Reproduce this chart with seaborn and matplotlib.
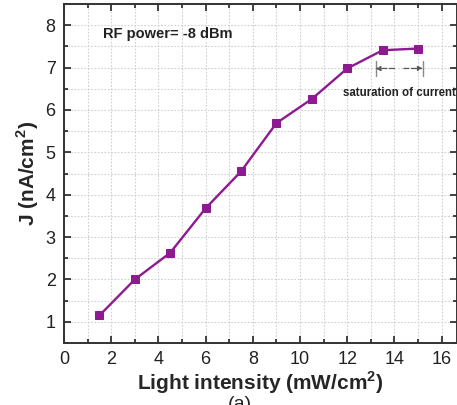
import matplotlib
matplotlib.use("Agg")
import matplotlib.pyplot as plt
import seaborn as sns
import pandas as pd
from matplotlib.ticker import MultipleLocator

intensity = [1.5, 3.0, 4.5, 6.0, 7.5, 9.0, 10.5, 12.0, 13.5, 15.0]
current = [1.15, 2.0, 2.63, 3.68, 4.55, 5.69, 6.26, 6.98, 7.41, 7.45]
x_ticks = [0, 2, 4, 6, 8, 10, 12, 14, 16]
y_ticks = [1, 2, 3, 4, 5, 6, 7, 8]

df = pd.DataFrame({"intensity": intensity, "current": current})

sns.set_style("ticks")
plt.rcParams["font.family"] = ["Liberation Sans", "DejaVu Sans"]
plt.rcParams["mathtext.fontset"] = "custom"
plt.rcParams["mathtext.rm"] = "Liberation Sans"
plt.rcParams["mathtext.bf"] = "Liberation Sans:bold"

fig = plt.figure(figsize=(4.57, 4.05), dpi=100)
ax = fig.add_axes([0.140, 0.153, 0.860, 0.837])

purple = "#8E1A90"
sns.lineplot(data=df, x="intensity", y="current", ax=ax, color=purple,
             marker="s", markersize=6, markeredgecolor=purple, linewidth=1.7,
             zorder=3)

ax.set_xlim(0, 16.65)
ax.set_ylim(0.5, 8.5)
ax.set_xticks(x_ticks)
ax.set_yticks(y_ticks)
ax.xaxis.set_minor_locator(MultipleLocator(1))
ax.yaxis.set_minor_locator(MultipleLocator(0.5))
ax.tick_params(which="both", direction="in", top=True, right=True,
               color="#222222", width=1.2)
ax.tick_params(which="major", length=5, labelsize=13, labelcolor="#222222", pad=6)
ax.tick_params(which="minor", length=3)

ax.grid(True, which="both", linestyle=(0, (1.5, 1.5)), color="#d0d0d0", linewidth=0.8)
ax.set_axisbelow(True)

for s in ax.spines.values():
    s.set_color("#333333")
    s.set_linewidth(1.4)

ax.set_xlabel(r"Light intensity (mW/cm$^\mathbf{2}$)", fontsize=15, fontweight="bold", labelpad=1)
ax.set_ylabel(r"J (nA/cm$^\mathbf{2}$)", fontsize=15, fontweight="bold", labelpad=3)

ax.text(1.65, 7.79, "RF power= -8 dBm", fontsize=10.5, fontweight="bold",
        color="#222222", va="center")
ax.text(11.8, 6.41, "saturation of current", fontsize=8.3, fontweight="bold",
        color="#222222", va="center")

# saturation double arrow
ya = 6.98
ax.annotate("", xy=(13.2, ya), xytext=(14.0, ya),
            arrowprops=dict(arrowstyle="-|>", color="#555555", lw=0.9,
                            mutation_scale=7, shrinkA=0, shrinkB=0,
                            linestyle=(0, (4, 2))))
ax.annotate("", xy=(15.2, ya), xytext=(14.4, ya),
            arrowprops=dict(arrowstyle="-|>", color="#555555", lw=0.9,
                            mutation_scale=7, shrinkA=0, shrinkB=0,
                            linestyle=(0, (4, 2))))
ax.plot([13.2, 13.2], [ya - 0.18, ya + 0.18], color="#888888", lw=1.0)
ax.plot([15.2, 15.2], [ya - 0.18, ya + 0.18], color="#888888", lw=1.0)

fig.text(0.525, 0.022, "(a)", fontsize=14, ha="center", va="top", color="#222222")

fig.savefig("out.png", dpi=100)
